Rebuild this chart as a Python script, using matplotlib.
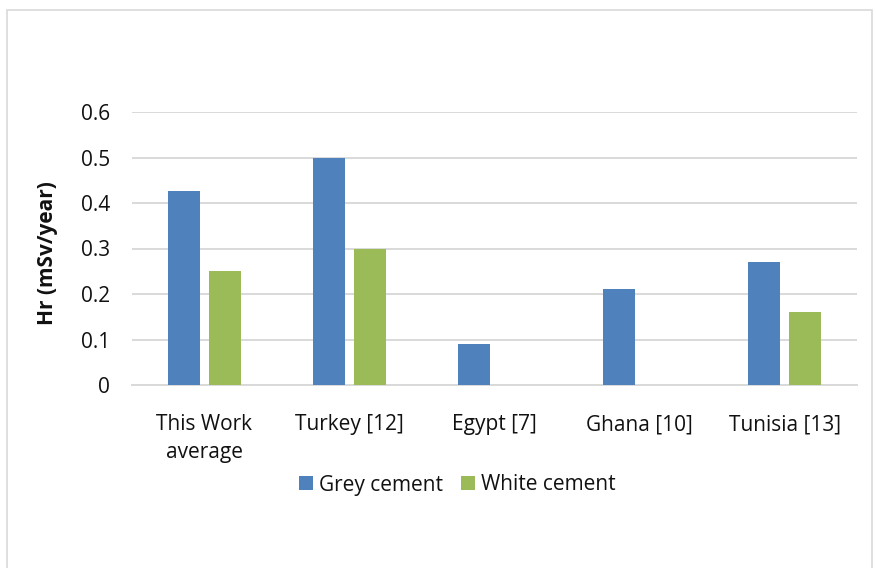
import matplotlib
matplotlib.use("Agg")
import matplotlib.pyplot as plt
from matplotlib.patches import Rectangle
import numpy as np

categories = ["This Work\naverage", "Turkey [12]", "Egypt [7]", "Ghana [10]", "Tunisia [13]"]
grey_cement = [0.427, 0.50, 0.09, 0.21, 0.27]
white_cement = [0.251, 0.30, np.nan, np.nan, 0.16]
series_names = ["Grey cement", "White cement"]
yticks = [0, 0.1, 0.2, 0.3, 0.4, 0.5, 0.6]
ytick_labels = ["0", "0.1", "0.2", "0.3", "0.4", "0.5", "0.6"]

plt.rcParams['font.family'] = ['Open Sans', 'DejaVu Sans']

W, H = 876, 568
FS = 15
fig = plt.figure(figsize=(W / 100, H / 100), dpi=100)
ax = fig.add_axes([132 / W, 1 - 385 / H, (857 - 132) / W, (385 - 112) / H])

x = np.arange(len(categories))
bw = 0.22
off = 0.142
ax.bar(x - off, grey_cement, bw, color="#4F81BD", label=series_names[0], zorder=3)
ax.bar(x + off, white_cement, bw, color="#9BBB59", label=series_names[1], zorder=3)

ax.set_xlim(-0.5, len(categories) - 0.5)
ax.set_ylim(0, 0.6)
ax.set_yticks(yticks)
ax.set_yticklabels(ytick_labels)
ax.set_xticks(x)
ax.set_xticklabels(categories, linespacing=1.4)
ax.tick_params(axis='y', length=0, pad=16, labelsize=FS, labelcolor="#111111")
ax.tick_params(axis='x', length=0, pad=21, labelsize=FS, labelcolor="#111111")
ax.grid(axis='y', color="#D9D9D9", linewidth=1.4, zorder=0)
ax.set_axisbelow(True)
for s in ["top", "right", "left"]:
    ax.spines[s].set_visible(False)
ax.spines["bottom"].set_color("#D9D9D9")
ax.spines["bottom"].set_linewidth(1.4)

fig.text(48 / W, 1 - 253 / H, "Hr (mSv/year)", rotation=90, ha="center", va="center",
         fontsize=FS, fontweight="bold", color="#111111")

fig.legend(loc="center", bbox_to_anchor=(457.5 / W, 1 - 485 / H), ncol=2, frameon=False,
           fontsize=FS, handlelength=0.68, handleheight=0.68, handletextpad=0.3,
           columnspacing=0.85, labelcolor="#111111")

fig.patches.append(Rectangle((7 / W, -0.05), (872 - 7) / W, 1.05 - 10 / H,
                             transform=fig.transFigure, fill=False,
                             edgecolor="#D9D9D9", linewidth=1.2))

fig.savefig("out.png", dpi=100)
